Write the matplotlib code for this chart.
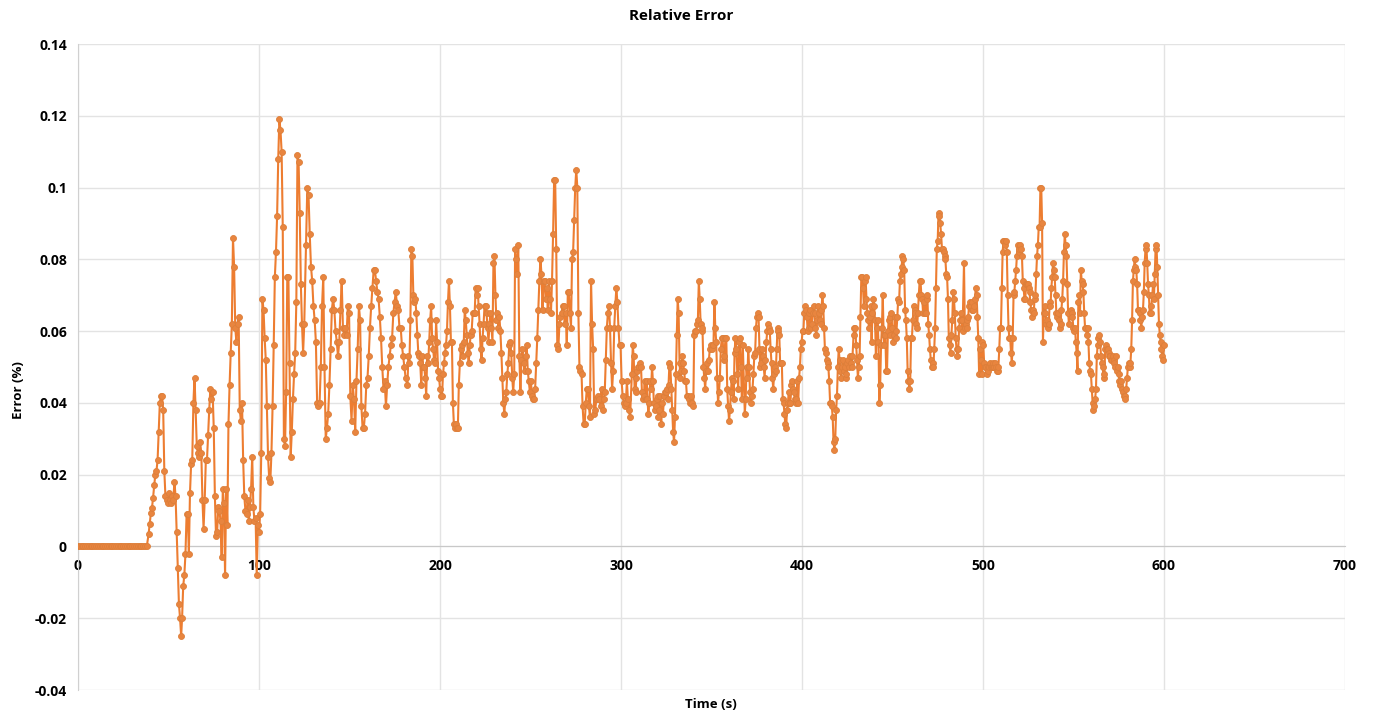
import numpy as np
import matplotlib
matplotlib.use("Agg")
import matplotlib.pyplot as plt

# ---- data ----
# Each block: values sampled roughly once per second between its start/end time
err_z = [0.0, 0.0, 0.0, 0.0, 0.0, 0.0, 0.0, 0.0, 0.0, 0.0,
         0.0, 0.0, 0.0, 0.0, 0.0, 0.0, 0.0, 0.0, 0.0, 0.0,
         0.0, 0.0, 0.0, 0.0, 0.0, 0.0, 0.0, 0.0, 0.0, 0.0,
         0.0, 0.0, 0.0, 0.0, 0.0, 0.0, 0.0, 0.0, 0.0]
err_a = [0.0034, 0.0063, 0.0092, 0.0107, 0.0136, 0.017, 0.020, 0.021, 0.024, 0.032,
         0.040, 0.042, 0.042, 0.038, 0.021, 0.014, 0.013, 0.012, 0.015, 0.013,
         0.012, 0.014, 0.013, 0.018, 0.014, 0.004, -0.006, -0.016, -0.020, -0.025]
err_b = [-0.020, -0.011, -0.008, -0.002, 0.009, 0.009, -0.002, 0.015, 0.023, 0.024,
         0.040, 0.047, 0.038, 0.028, 0.026, 0.025, 0.029, 0.026, 0.013, 0.005,
         0.013, 0.024, 0.024, 0.031, 0.038, 0.044, 0.041, 0.043, 0.033, 0.014,
         0.003, 0.004, 0.011, 0.010, 0.007, -0.003, 0.016, 0.012, -0.008, 0.016,
         0.006, 0.034, 0.045, 0.054, 0.062, 0.086, 0.078, 0.061, 0.057, 0.062,
         0.064, 0.038, 0.035, 0.040, 0.024, 0.014, 0.010, 0.009, 0.013, 0.007,
         0.011, 0.016, 0.025, 0.011, 0.007, 0.008, -0.008, 0.006, 0.004, 0.009,
         0.026, 0.069, 0.066, 0.058, 0.052, 0.039, 0.025, 0.019, 0.018, 0.026,
         0.039, 0.056, 0.075, 0.082, 0.092, 0.108, 0.119, 0.116, 0.110, 0.089,
         0.030, 0.028, 0.043, 0.075, 0.075, 0.051, 0.025, 0.032, 0.041, 0.048,
         0.054, 0.068, 0.109, 0.107, 0.093, 0.073, 0.062, 0.054, 0.062]
err_c = [0.084, 0.100, 0.098, 0.087, 0.078, 0.074, 0.067, 0.063, 0.057, 0.040,
         0.039, 0.040, 0.050, 0.067, 0.075, 0.050, 0.030, 0.033, 0.037, 0.045,
         0.055, 0.066, 0.069, 0.066, 0.060, 0.057, 0.053, 0.057, 0.066, 0.074,
         0.061, 0.059, 0.061, 0.059, 0.067, 0.065, 0.042, 0.035, 0.045, 0.041,
         0.032, 0.046, 0.055, 0.067, 0.063, 0.039, 0.033, 0.033, 0.037, 0.045,
         0.047, 0.053, 0.061, 0.067, 0.072, 0.077, 0.077, 0.074, 0.071, 0.069,
         0.064, 0.058, 0.050, 0.044, 0.046, 0.039, 0.045, 0.050, 0.053, 0.056,
         0.058, 0.065, 0.068, 0.071, 0.067, 0.066, 0.061, 0.061, 0.056, 0.053,
         0.050, 0.047]
err_d = [0.045, 0.053, 0.051, 0.063, 0.083, 0.081, 0.070, 0.068, 0.069, 0.065,
         0.059, 0.054, 0.053, 0.051, 0.045, 0.053, 0.050, 0.050, 0.047, 0.042,
         0.053, 0.051, 0.057, 0.063, 0.067, 0.058, 0.055, 0.052, 0.051, 0.063,
         0.057, 0.049, 0.047, 0.044, 0.042, 0.042, 0.048, 0.051, 0.054, 0.056,
         0.060, 0.068, 0.074, 0.067, 0.057, 0.057, 0.040, 0.034, 0.033, 0.034,
         0.033, 0.033, 0.045, 0.051, 0.055, 0.056, 0.053, 0.057, 0.066, 0.063,
         0.059, 0.054, 0.051, 0.056, 0.059, 0.060, 0.065, 0.065, 0.065, 0.072,
         0.070, 0.072, 0.067, 0.062, 0.055, 0.052, 0.058, 0.062, 0.067, 0.067,
         0.065, 0.061, 0.057, 0.062, 0.065, 0.061, 0.057, 0.079, 0.081, 0.070,
         0.063, 0.065, 0.061, 0.064, 0.060, 0.054, 0.047, 0.040, 0.037, 0.041,
         0.043, 0.048, 0.051, 0.056, 0.057, 0.054, 0.047, 0.043, 0.048]
err_e = [0.083, 0.080, 0.076, 0.084, 0.053, 0.043, 0.052, 0.055, 0.051, 0.049,
         0.053, 0.056, 0.049, 0.046, 0.043, 0.046, 0.042, 0.041, 0.041, 0.044,
         0.051, 0.058, 0.066, 0.074, 0.080, 0.076, 0.066, 0.074, 0.074, 0.069,
         0.072, 0.066, 0.074, 0.069, 0.065, 0.074, 0.087, 0.102, 0.102, 0.083,
         0.056, 0.055, 0.062, 0.064, 0.065, 0.067, 0.067, 0.062, 0.065, 0.056,
         0.071, 0.071, 0.065, 0.061, 0.080, 0.082, 0.091, 0.100, 0.105, 0.100,
         0.065, 0.050, 0.049, 0.048, 0.039, 0.034, 0.034, 0.040, 0.044, 0.044,
         0.039, 0.036, 0.074, 0.062, 0.055, 0.037, 0.038, 0.041, 0.041, 0.042,
         0.041, 0.039, 0.044, 0.038, 0.041, 0.043, 0.052, 0.061, 0.065, 0.067,
         0.061, 0.051, 0.044, 0.049, 0.061, 0.067, 0.072, 0.068, 0.061, 0.056,
         0.056, 0.046, 0.042, 0.040, 0.039, 0.040, 0.046, 0.041, 0.038, 0.036]
err_f = [0.048, 0.056, 0.053, 0.044, 0.043, 0.047, 0.049, 0.050, 0.050, 0.051,
         0.050, 0.043, 0.041, 0.042, 0.046, 0.041, 0.046, 0.041, 0.037, 0.040,
         0.046, 0.044, 0.050, 0.046, 0.040, 0.038, 0.039, 0.041, 0.042, 0.036,
         0.038, 0.042, 0.034, 0.040, 0.037, 0.042, 0.043, 0.043, 0.044, 0.041,
         0.045, 0.051, 0.050, 0.044, 0.038, 0.032, 0.029, 0.036, 0.048, 0.059,
         0.069, 0.065, 0.051, 0.047, 0.049, 0.053, 0.051, 0.049, 0.046, 0.046,
         0.042, 0.042, 0.041, 0.040, 0.042, 0.040, 0.040, 0.039, 0.059, 0.060,
         0.060, 0.062, 0.063, 0.074, 0.069, 0.062, 0.060, 0.061, 0.050, 0.047,
         0.044, 0.049, 0.051, 0.049, 0.052, 0.055, 0.056, 0.055, 0.056, 0.056,
         0.068, 0.061, 0.057, 0.047, 0.040, 0.043, 0.047, 0.055, 0.058, 0.058,
         0.052, 0.053, 0.058, 0.058, 0.044, 0.039, 0.035, 0.038, 0.043, 0.047,
         0.046, 0.041, 0.054, 0.058, 0.055, 0.048, 0.044, 0.057, 0.058, 0.050,
         0.041, 0.056]
err_g = [0.037, 0.041, 0.050, 0.047, 0.055, 0.050, 0.043, 0.040, 0.042, 0.044,
         0.048, 0.053, 0.054, 0.061, 0.064, 0.065, 0.064, 0.055, 0.050, 0.051,
         0.055, 0.053, 0.050, 0.047, 0.052, 0.057, 0.060, 0.062, 0.061, 0.060,
         0.055, 0.051, 0.047, 0.044, 0.048, 0.050, 0.049, 0.055, 0.061, 0.060,
         0.059, 0.051, 0.051, 0.051, 0.041, 0.040, 0.037, 0.034, 0.033, 0.038,
         0.040, 0.043, 0.040, 0.040, 0.045, 0.046, 0.044, 0.043, 0.041, 0.040,
         0.041, 0.046, 0.040, 0.047, 0.050, 0.055, 0.057, 0.060, 0.060, 0.065,
         0.067, 0.066, 0.064, 0.060, 0.061, 0.065, 0.066, 0.061, 0.062, 0.065,
         0.067, 0.065, 0.061, 0.059, 0.063, 0.067, 0.065, 0.063, 0.062, 0.066,
         0.070, 0.067, 0.061, 0.055, 0.054, 0.052, 0.051, 0.050, 0.046, 0.040,
         0.040, 0.039, 0.036, 0.029, 0.027, 0.030, 0.038, 0.042, 0.050, 0.055,
         0.052, 0.049, 0.047, 0.050, 0.052, 0.049, 0.050, 0.047, 0.048, 0.051,
         0.052, 0.050, 0.053, 0.051, 0.050, 0.053]
err_h = [0.059, 0.061, 0.061, 0.056, 0.052, 0.047, 0.050, 0.053, 0.064, 0.075,
         0.075, 0.072, 0.067, 0.074, 0.075, 0.069, 0.065, 0.063, 0.061, 0.064,
         0.067, 0.057, 0.065, 0.069, 0.067, 0.063, 0.053, 0.061, 0.063, 0.057,
         0.040, 0.045, 0.056, 0.061, 0.070, 0.059, 0.056, 0.059, 0.049, 0.049,
         0.060, 0.063, 0.059, 0.064, 0.065, 0.061, 0.057, 0.059, 0.064, 0.058,
         0.060, 0.064, 0.069, 0.068, 0.074, 0.076, 0.078, 0.081, 0.080, 0.077,
         0.066, 0.063, 0.058, 0.049, 0.046, 0.044, 0.046, 0.058, 0.058, 0.063,
         0.067, 0.066, 0.065, 0.062, 0.061, 0.065, 0.070, 0.074, 0.074, 0.070,
         0.069, 0.065, 0.068, 0.065, 0.065, 0.069, 0.070, 0.062, 0.059, 0.055,
         0.052, 0.050, 0.051, 0.050, 0.055, 0.061, 0.072, 0.083, 0.085, 0.093,
         0.092, 0.090, 0.087, 0.083, 0.083, 0.082, 0.081, 0.080, 0.076, 0.075,
         0.069, 0.058, 0.056, 0.054, 0.059, 0.063, 0.071, 0.069, 0.065, 0.058,
         0.055, 0.053, 0.055, 0.061, 0.063, 0.065, 0.063, 0.060]
err_i = [0.079, 0.061, 0.062, 0.063, 0.061, 0.064, 0.067, 0.068, 0.067, 0.066,
         0.068, 0.066, 0.067, 0.069, 0.072, 0.070, 0.064, 0.058, 0.048, 0.055,
         0.052, 0.048, 0.057, 0.056, 0.051, 0.050, 0.050, 0.048, 0.050, 0.049,
         0.050, 0.051, 0.050, 0.050, 0.050, 0.051, 0.050, 0.051, 0.050, 0.049,
         0.049, 0.050, 0.055, 0.061, 0.061, 0.072, 0.082, 0.085, 0.085, 0.084,
         0.085, 0.082, 0.070, 0.061, 0.058, 0.058, 0.054, 0.051, 0.058, 0.070,
         0.071, 0.074, 0.077, 0.081, 0.084, 0.082, 0.083, 0.084, 0.083, 0.081,
         0.074, 0.072, 0.069, 0.069, 0.073, 0.073, 0.073, 0.072, 0.071, 0.068,
         0.066, 0.064, 0.066, 0.065, 0.069, 0.070, 0.076, 0.081, 0.084, 0.089,
         0.089, 0.100, 0.100, 0.090, 0.057, 0.065, 0.067, 0.065, 0.062, 0.063,
         0.061, 0.062, 0.068, 0.067, 0.072, 0.075, 0.079, 0.077, 0.075, 0.070,
         0.065, 0.064, 0.065, 0.063, 0.061, 0.062, 0.066, 0.069, 0.074, 0.082,
         0.087, 0.084, 0.081, 0.073, 0.065, 0.062]
err_j = [0.066, 0.065, 0.064, 0.061, 0.060, 0.061, 0.057, 0.054, 0.049, 0.068,
         0.070, 0.065, 0.077, 0.074, 0.073, 0.071, 0.065, 0.061, 0.061, 0.059,
         0.061, 0.057, 0.051, 0.049, 0.048, 0.044, 0.040, 0.038, 0.039, 0.041,
         0.044, 0.053, 0.056, 0.058, 0.059, 0.057, 0.053, 0.051, 0.050, 0.047,
         0.048, 0.055, 0.056, 0.055, 0.055, 0.054, 0.053, 0.053, 0.052, 0.052,
         0.053, 0.052, 0.051, 0.050, 0.053, 0.049, 0.050, 0.048, 0.046, 0.045,
         0.046, 0.044, 0.043, 0.042, 0.042, 0.041, 0.044, 0.047, 0.050, 0.051,
         0.050, 0.051, 0.055, 0.063, 0.074, 0.077, 0.080, 0.078, 0.077, 0.073,
         0.066, 0.066, 0.065, 0.063, 0.061, 0.064, 0.066, 0.071, 0.079, 0.083,
         0.084, 0.079, 0.073, 0.070, 0.065, 0.065, 0.067, 0.070, 0.073, 0.069,
         0.076, 0.083, 0.084, 0.078, 0.070, 0.062, 0.059, 0.057, 0.055, 0.053,
         0.052, 0.056]

# time span (s) covered by each block
block_starts = [0, 39, 57.5, 126, 182, 241.5, 306, 368.4, 428.5, 489.5, 548.5]
block_ends = [38, 57, 125, 181, 241, 305, 367.3, 427.9, 488.7, 547.5, 600]
blocks = [err_z, err_a, err_b, err_c, err_d, err_e, err_f, err_g, err_h, err_i, err_j]

y_ticks = [-0.04, -0.02, 0.0, 0.02, 0.04, 0.06, 0.08, 0.1, 0.12, 0.14]
y_labels = ["-0.04", "-0.02", "0", "0.02", "0.04", "0.06", "0.08", "0.1", "0.12", "0.14"]
x_ticks = [0, 100, 200, 300, 400, 500, 600, 700]
x_labels = ["0", "100", "200", "300", "400", "500", "600", "700"]

time = np.concatenate([np.linspace(s, e, len(b)) for s, e, b in zip(block_starts, block_ends, blocks)])
err = np.concatenate([np.array(b, dtype=float) for b in blocks])

# ---- figure ----
plt.rcParams['font.family'] = ['Open Sans', 'DejaVu Sans']
fig = plt.figure(figsize=(13.77, 7.19), dpi=100)
ax = fig.add_axes([78 / 1377, 1 - 690 / 719, (1345 - 78) / 1377, (690 - 44) / 719])

orange = '#ED7D31'
ax.plot(time, err, color=orange, linewidth=1.5, marker='o', markersize=4.3,
        markerfacecolor='#E8853F', markeredgecolor='#DD7F3A', markeredgewidth=0.6, zorder=3)

ax.set_xlim(0, 700)
ax.set_ylim(-0.04, 0.14)
ax.set_yticks(y_ticks)
ax.set_yticklabels(y_labels)
ax.set_xticks(x_ticks)
ax.set_xticklabels(x_labels)

ax.grid(True, color='#E3E3E3', linewidth=1.0, zorder=0)
ax.set_axisbelow(True)
for side in ['top', 'right']:
    ax.spines[side].set_visible(False)
ax.spines['left'].set_color('#D0D0D0')
ax.spines['bottom'].set_position(('data', 0))
ax.spines['bottom'].set_color('#C8C8C8')
ax.tick_params(axis='both', length=0, labelsize=10, colors='black')
ax.tick_params(axis='x', pad=9)
ax.tick_params(axis='y', pad=8)
for lab in ax.get_xticklabels() + ax.get_yticklabels():
    lab.set_fontweight('bold')

fig.text(681 / 1377, 1 - 16 / 719, 'Relative Error', ha='center', va='center',
         fontsize=11, fontweight='bold')
fig.text(711 / 1377, 1 - 704 / 719, 'Time (s)', ha='center', va='center',
         fontsize=9.5, fontweight='bold')
fig.text(18 / 1377, 1 - 390 / 719, 'Error (%)', ha='center', va='center',
         rotation=90, fontsize=9.5, fontweight='bold')

fig.savefig('out.png', dpi=100)
